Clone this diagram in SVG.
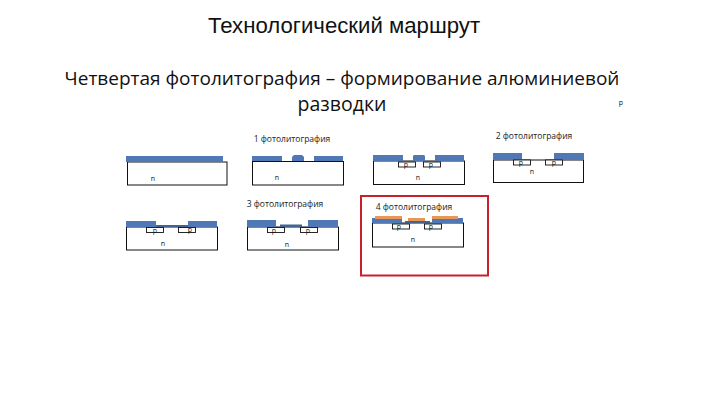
<svg xmlns="http://www.w3.org/2000/svg" width="720" height="405" viewBox="0 0 720 405">
<style>
text{fill:#111;text-anchor:middle}
.t{font:22.200px "Liberation Sans",Arial,sans-serif}
.s{font:19px "Open Sans","Noto Sans",sans-serif}
.l{font:8.500px "Open Sans","Noto Sans",sans-serif;fill:#222}
.n{font:7px "Open Sans","Noto Sans",sans-serif;fill:#111}
.w{fill:#fff;stroke:#111;stroke-width:1}
.b{fill:#4f78b5}
.d{fill:#44648f}
.o{fill:#e8975a}
.p{fill:#fff;stroke:#111;stroke-width:.9}
</style>
<rect width="720" height="405" fill="#fff"/>
<text class="t" x="344" y="33">Технологический маршрут</text>
<text class="s" x="342" y="85">Четвертая фотолитография – формирование алюминиевой</text>
<text class="s" x="342" y="111" style="font-size:19.500px">разводки</text>
<text class="n" x="621" y="105">p</text>

<g id="step-0">
<rect class="w" x="127.500" y="162" width="99.500" height="23"/>
<rect class="b" x="126" y="156" width="97" height="6"/>
<text class="n" x="153" y="181">n</text>
</g>
<g id="step-1">
<text class="l" x="292" y="142">1 фотолитография</text>
<rect class="w" x="252.500" y="161.500" width="91" height="23.500"/>
<rect class="b" x="252" y="156" width="30" height="5"/>
<path class="b" d="M292 161v-4l2-2h8l2 2v4z"/>
<rect class="b" x="314" y="156" width="29" height="5"/>
<text class="n" x="277" y="180">n</text>
</g>
<g id="step-2">
<rect class="w" x="373.500" y="161" width="91" height="23.500"/>
<rect class="b" x="373" y="155" width="30" height="6"/>
<path class="b" d="M413 161v-5l1-1h10l1 1v5z"/>
<rect class="b" x="435" y="155" width="29" height="6"/>
<rect class="p" x="398.500" y="162" width="17" height="5"/>
<rect class="p" x="423.500" y="162" width="17" height="5"/>
<text class="n" x="406" y="167">p</text>
<text class="n" x="431" y="167">p</text>
<text class="n" x="418" y="180">n</text>
</g>
<g id="step-3">
<text class="l" x="534" y="139">2 фотолитография</text>
<rect class="w" x="493.500" y="160" width="90" height="22.500"/>
<rect class="b" x="493" y="153" width="29" height="7"/>
<rect class="b" x="554" y="153" width="30" height="7"/>
<rect class="p" x="513.500" y="160" width="17" height="5"/>
<rect class="p" x="545.500" y="160" width="17" height="5"/>
<text class="n" x="521" y="165">p</text>
<text class="n" x="554" y="165">p</text>
<text class="n" x="532" y="174">n</text>
</g>
<g id="step-4">
<rect class="w" x="126.500" y="227" width="91" height="23"/>
<rect class="b" x="126" y="221" width="30" height="6"/>
<rect class="d" x="156" y="225" width="32" height="2"/>
<rect class="b" x="188" y="221" width="29" height="6"/>
<rect class="p" x="146.500" y="227.500" width="17" height="5"/>
<rect class="p" x="178.500" y="227.500" width="17" height="5"/>
<text class="n" x="155" y="233">p</text>
<text class="n" x="190" y="232">p</text>
<text class="n" x="163" y="246">n</text>
</g>
<g id="step-5">
<text class="l" x="285" y="207">3 фотолитография</text>
<rect class="w" x="247.500" y="227" width="91" height="23"/>
<rect class="b" x="247" y="220" width="29" height="7"/>
<rect class="d" x="280" y="224.500" width="22" height="2.500"/>
<rect class="b" x="308" y="220" width="30" height="7"/>
<rect class="p" x="267.500" y="227.500" width="17" height="5"/>
<rect class="p" x="300.500" y="227.500" width="17" height="5"/>
<text class="n" x="274" y="233">p</text>
<text class="n" x="308" y="233">p</text>
<text class="n" x="287" y="247">n</text>
</g>
<g id="step-6">
<rect x="361" y="196" width="127" height="79.500" fill="none" stroke="#c8202c" stroke-width="2"/>
<text class="l" x="414" y="210">4 фотолитография</text>
<rect class="w" x="372.500" y="223" width="91" height="24"/>
<rect class="b" x="372" y="218" width="30" height="5"/>
<rect class="d" x="405" y="221" width="25" height="2"/>
<rect class="b" x="432" y="218" width="31" height="5"/>
<rect class="o" x="375" y="216" width="27" height="3"/>
<rect class="o" x="408" y="218" width="17" height="3"/>
<rect class="o" x="432" y="216" width="26" height="3"/>
<rect class="p" x="392.500" y="224" width="17" height="5"/>
<rect class="p" x="424.500" y="224" width="17" height="5"/>
<text class="n" x="399" y="229">p</text>
<text class="n" x="431" y="229">p</text>
<text class="n" x="413" y="242">n</text>
</g>
<g id="connectors"></g>
</svg>
